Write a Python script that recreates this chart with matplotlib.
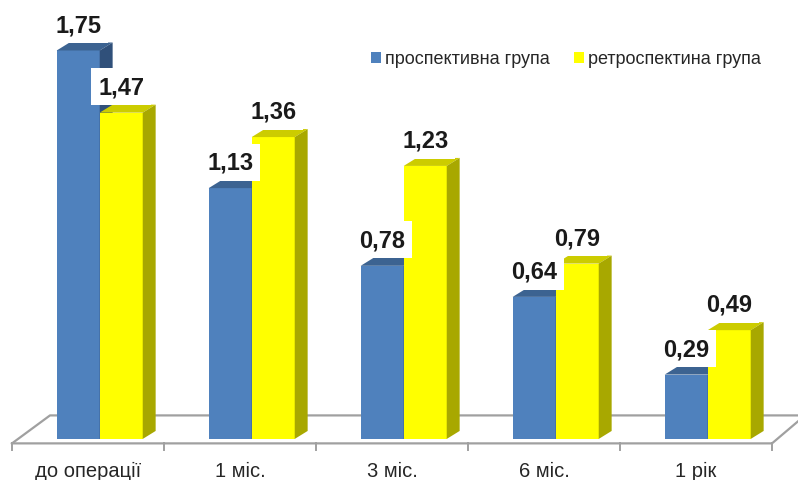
import matplotlib
matplotlib.use("Agg")
import matplotlib.pyplot as plt
from matplotlib.patches import Polygon

plt.rcParams['font.family'] = ['Liberation Sans', 'DejaVu Sans']

categories = ['до операції', '1 міс.', '3 міс.', '6 міс.', '1 рік']
prospective = [1.75, 1.13, 0.78, 0.64, 0.29]
retrospective = [1.47, 1.36, 1.23, 0.79, 0.49]
series_names = ['проспективна група', 'ретроспектина група']

BLUE = ('#4f81bd', '#3c6391', '#30507a')      # front, top, side
YELLOW = ('#ffff00', '#cccc00', '#a8a800')
GRID = '#a0a0a0'

BAR_W = 0.283          # width of one bar, category units
DX, DY = 0.085, 0.036  # depth of the fake 3D extrusion


def bar3d(ax, lefts, heights, colors, z):
    front, top, side = colors
    bars = ax.bar(lefts, heights, width=BAR_W, align='edge', color=front,
                  linewidth=0, zorder=z)
    for left, h in zip(lefts, heights):
        right = left + BAR_W
        ax.add_patch(Polygon([(left, h), (right, h), (right + DX, h + DY), (left + DX, h + DY)],
                             closed=True, fc=top, ec='none', zorder=z))
        ax.add_patch(Polygon([(right, 0), (right, h), (right + DX, h + DY), (right + DX, DY)],
                             closed=True, fc=side, ec='none', zorder=z))
    return bars


def value_labels(ax, lefts, heights):
    for left, h in zip(lefts, heights):
        ax.annotate(f'{h:.2f}'.replace('.', ','), xy=(left + BAR_W / 2, h),
                    xytext=(0, 14), textcoords='offset points',
                    ha='center', va='baseline', fontsize=17, fontweight='bold',
                    color='#1a1a1a', zorder=10,
                    bbox=dict(boxstyle='square,pad=0.3', fc='white', ec='none'))


fig = plt.figure(figsize=(7.98, 4.81), dpi=100)
ax = fig.add_axes([0, 0, 1, 1])
ax.set_xlim(-0.579, 4.671)
ax.set_ylim(-0.185, 1.982)
ax.axis('off')

n = len(categories)
x = list(range(n))

# floor of the chart
fy0, fy1 = -0.02, 0.106
ax.plot([-0.5, n - 0.5, n - 0.5 + 0.217], [fy0, fy0, fy1], color=GRID, lw=1.6, zorder=1)
ax.plot([-0.5, -0.25, n - 0.5 + 0.217], [fy0, fy1, fy1], color=GRID, lw=1.6, zorder=1)
for k in range(n + 1):
    ax.plot([k - 0.5, k - 0.5], [fy0, -0.05], color=GRID, lw=1.4, zorder=1)

blue_left = [i - 0.206 for i in x]
yellow_left = [l + BAR_W for l in blue_left]
b1 = bar3d(ax, blue_left, prospective, BLUE, 2)
b2 = bar3d(ax, yellow_left, retrospective, YELLOW, 3)

value_labels(ax, blue_left, prospective)
value_labels(ax, yellow_left, retrospective)

for i, cat in zip(x, categories):
    ax.text(i, -0.1, cat, ha='center', va='top', fontsize=14.5, color='#262626')

fig.legend([b1, b2], series_names, loc='center left',
           bbox_to_anchor=(371 / 798, 1 - 60 / 481), ncol=2, frameon=False,
           fontsize=13, handlelength=0.55, handleheight=0.55, handletextpad=0.25,
           columnspacing=1.3, borderpad=0, borderaxespad=0, labelcolor='#262626')

fig.savefig('out.png', dpi=100)
